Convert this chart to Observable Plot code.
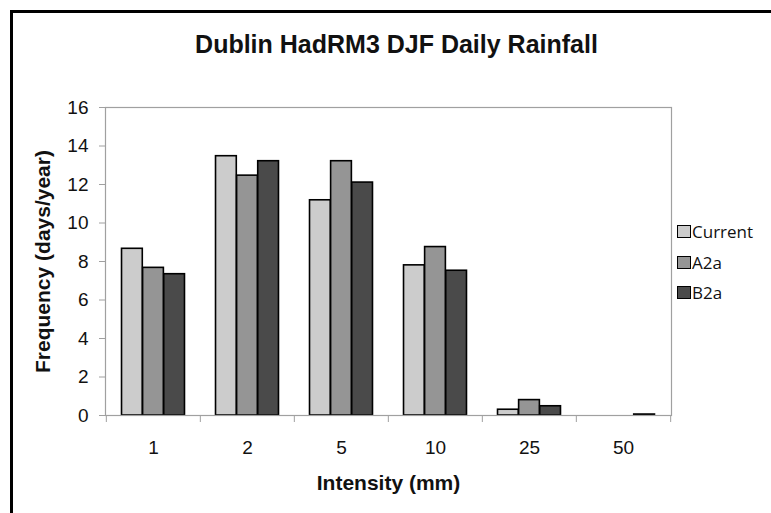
<!DOCTYPE html>
<html>
<head>
<meta charset="utf-8">
<script src="https://cdn.jsdelivr.net/npm/d3@7"></script>
<script src="https://cdn.jsdelivr.net/npm/@observablehq/plot@0.6"></script>
<style>
  html, body { margin: 0; padding: 0; background: #fff; }
  #wrap { position: relative; width: 771px; height: 513px; overflow: hidden; background: #fff; }
  #frame { position: absolute; left: 10px; top: 10px; width: 800px; height: 600px;
           border-top: 3.5px solid #000; border-left: 3.5px solid #000; pointer-events: none; }
  #legend { position: absolute; left: 677px; top: 0; font-family: "Open Sans", "Noto Sans", sans-serif;
            font-size: 17px; color: #111; }
  .item { position: absolute; left: 0; display: flex; align-items: center; height: 20px; white-space: nowrap; }
  .sw { width: 12px; height: 11px; border: 1.5px solid #000; margin-right: 1px; }
</style>
</head>
<body>
<div id="wrap">
  <div id="chart"></div>
  <div id="frame"></div>
  <div id="legend"></div>
</div>
<script>
const title = "Dublin HadRM3 DJF Daily Rainfall";
const xLabel = "Intensity (mm)";
const yLabel = "Frequency (days/year)";
const categories = ["1", "2", "5", "10", "25", "50"];
const seriesNames = ["Current", "A2a", "B2a"];
const seriesColors = ["#cccccc", "#959595", "#4a4a4a"];
const current = [8.66, 13.47, 11.18, 7.80, 0.30, 0];
const a2a     = [7.67, 12.46, 13.21, 8.75, 0.80, 0];
const b2a     = [7.34, 13.21, 12.10, 7.52, 0.48, 0.05];
const yTicks = [0, 2, 4, 6, 8, 10, 12, 14, 16];

const seriesValues = [current, a2a, b2a];
const data = [];
seriesNames.forEach((s, k) => categories.forEach((c, i) =>
  data.push({series: s, k, cat: c, value: seriesValues[k][i]})));

const width = 771, height = 513;
const ml = 105, mr = 100, mt = 107, mb = 98;
const band = (width - ml - mr) / categories.length;
const barW = 21.1;
const pad = (band - 3 * barW) / 2;
const font = "'Liberation Sans', Arial, sans-serif";

const barMarks = seriesNames.map((s, k) =>
  Plot.barY(data.filter(d => d.series === s && d.value > 0), {
    x: "cat", y: "value",
    fill: seriesColors[k], stroke: "#000", strokeWidth: 1.6,
    insetLeft: pad + k * barW, insetRight: pad + (2 - k) * barW
  }));

const chart = Plot.plot({
  width, height,
  marginLeft: ml, marginRight: mr, marginTop: mt, marginBottom: mb,
  style: {fontFamily: font, color: "#000", background: "#fff", overflow: "visible"},
  x: {type: "band", domain: categories, padding: 0},
  y: {domain: [0, 16]},
  marks: [
    ...barMarks,
    Plot.frame({stroke: "#a0a0a0", strokeWidth: 1.2}),
    Plot.axisY({ticks: yTicks, tickSize: 6, tickPadding: 11, stroke: "#a0a0a0",
                fontSize: 19, label: null, fill: "#111"}),
    Plot.axisX({tickSize: 0, tickPadding: 25, fontSize: 19, label: null, fill: "#111"}),
    Plot.axisX({ticks: categories, tickSize: 7, tickFormat: () => "", label: null,
                stroke: "#a0a0a0", dx: -band / 2}),
    Plot.axisX({ticks: categories.slice(-1), tickSize: 7, tickFormat: () => "", label: null,
                stroke: "#a0a0a0", dx: band / 2}),
    Plot.text([yLabel], {frameAnchor: "left", dx: -62, rotate: -90, text: d => d, textAnchor: "middle",
                         fontSize: 21, fontWeight: "bold", lineAnchor: "middle", fill: "#111"}),
    Plot.text([xLabel], {frameAnchor: "bottom", dy: 68, text: d => d, textAnchor: "middle",
                         fontSize: 21, fontWeight: "bold", lineAnchor: "middle", fill: "#111"}),
    Plot.text([title], {frameAnchor: "top", dy: -63, dx: 8, text: d => d, textAnchor: "middle",
                        fontSize: 25, fontWeight: "bold", lineAnchor: "middle", fill: "#111"})
  ]
});
document.getElementById("chart").appendChild(chart);

const legend = document.getElementById("legend");
const legendY = [231, 262, 292];
seriesNames.forEach((s, k) => {
  const item = document.createElement("div");
  item.className = "item";
  item.style.top = (legendY[k] - 10) + "px";
  const sw = document.createElement("div");
  sw.className = "sw";
  sw.style.background = seriesColors[k];
  const t = document.createElement("span");
  t.textContent = s;
  item.appendChild(sw);
  item.appendChild(t);
  legend.appendChild(item);
});
</script>
</body>
</html>
